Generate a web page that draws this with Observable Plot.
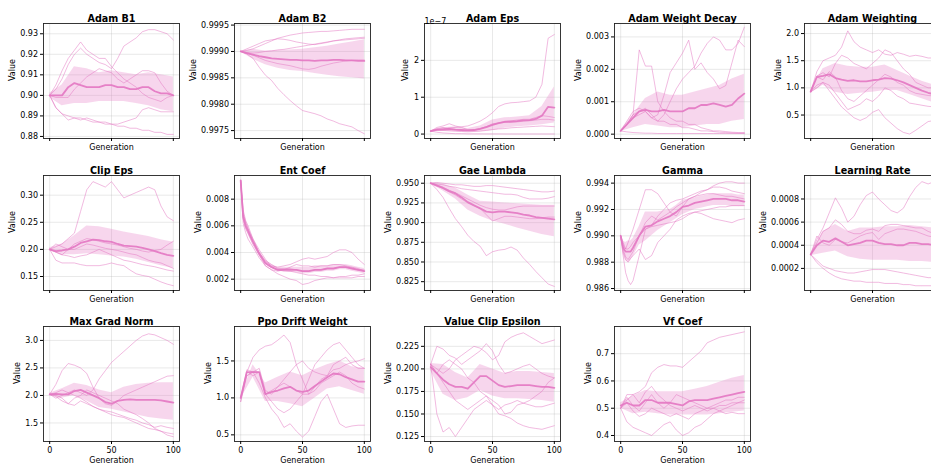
<!DOCTYPE html>
<html><head><meta charset="utf-8">
<script src="https://cdn.jsdelivr.net/npm/d3@7"></script>
<script src="https://cdn.jsdelivr.net/npm/@observablehq/plot@0.6"></script>
<style>
body{margin:0;background:#fff}
#fig{position:relative;width:931px;height:466px;overflow:hidden;background:#fff}
#fig svg{position:absolute;overflow:visible}
</style></head><body><div id="fig"></div>
<script>
// ---------- generations ----------
const gens21 = [0,5,10,15,20,25,30,35,40,45,50,55,60,65,70,75,80,85,90,95,100];
const gens11 = [0,10,20,30,40,50,60,70,80,90,100];
const gensFine = [0,2,4,6,8,10,15,20,25,30,35,40,45,50,55,60,65,70,75,80,85,90,95,100];

// ---------- Adam B1 ----------
const adamB1Runs = [
 [0.900,0.905,0.912,0.918,0.922,0.926,0.922,0.920,0.918,0.918,0.914,0.911,0.908,0.906,0.904,0.901,0.899,0.898,0.897,0.899,0.900],
 [0.900,0.903,0.908,0.915,0.920,0.923,0.920,0.918,0.916,0.915,0.913,0.918,0.924,0.926,0.928,0.931,0.932,0.932,0.931,0.930,0.927],
 [0.900,0.899,0.899,0.899,0.903,0.906,0.909,0.911,0.913,0.912,0.911,0.908,0.906,0.908,0.910,0.912,0.912,0.911,0.906,0.902,0.900],
 [0.900,0.894,0.891,0.888,0.889,0.888,0.889,0.888,0.887,0.887,0.886,0.886,0.887,0.888,0.889,0.893,0.894,0.893,0.892,0.892,0.892],
 [0.900,0.894,0.891,0.890,0.889,0.889,0.888,0.887,0.887,0.886,0.886,0.885,0.885,0.884,0.884,0.883,0.883,0.882,0.882,0.881,0.881]];
const adamB1Mean = [0.900,0.900,0.900,0.904,0.906,0.905,0.904,0.904,0.904,0.905,0.905,0.904,0.904,0.903,0.903,0.904,0.904,0.902,0.901,0.901,0.900];
const adamB1Lo = [0.899,0.895,0.896,0.896,0.897,0.897,0.897,0.896,0.895,0.893,0.892];
const adamB1Hi = [0.901,0.905,0.914,0.913,0.911,0.912,0.911,0.910,0.911,0.910,0.909];
const adamB1Ticks = [0.88,0.89,0.90,0.91,0.92,0.93];
const adamB1TickLabels = ["0.88","0.89","0.90","0.91","0.92","0.93"];

// ---------- Adam B2 ----------
const adamB2Runs = [
 [0.99900,0.99902,0.99905,0.99910,0.99915,0.99920,0.99925,0.99928,0.99931,0.99933,0.99935,0.99936,0.99937,0.99938,0.99938,0.99939,0.99940,0.99941,0.99942,0.99942,0.99942],
 [0.99900,0.99905,0.99910,0.99915,0.99920,0.99922,0.99924,0.99923,0.99921,0.99918,0.99916,0.99914,0.99913,0.99915,0.99917,0.99920,0.99922,0.99924,0.99925,0.99926,0.99927],
 [0.99900,0.99898,0.99897,0.99898,0.99900,0.99901,0.99903,0.99904,0.99906,0.99908,0.99910,0.99912,0.99914,0.99916,0.99918,0.99920,0.99921,0.99922,0.99923,0.99924,0.99925],
 [0.99900,0.99896,0.99893,0.99888,0.99883,0.99880,0.99877,0.99875,0.99873,0.99870,0.99867,0.99866,0.99868,0.99872,0.99875,0.99878,0.99880,0.99882,0.99883,0.99884,0.99884],
 [0.99900,0.99895,0.99887,0.99870,0.99855,0.99845,0.99830,0.99818,0.99807,0.99797,0.99788,0.99785,0.99782,0.99778,0.99772,0.99768,0.99763,0.99760,0.99757,0.99750,0.99744]];
const adamB2Mean = [0.99900,0.99897,0.99894,0.99891,0.99889,0.99887,0.99886,0.99885,0.99884,0.99884,0.99883,0.99883,0.99882,0.99883,0.99883,0.99884,0.99884,0.99883,0.99883,0.99882,0.99882];
const adamB2Lo = [0.99899,0.99885,0.99875,0.99868,0.99864,0.99862,0.99858,0.99855,0.99852,0.99850,0.99848];
const adamB2Hi = [0.99901,0.99904,0.99901,0.99902,0.99903,0.99904,0.99907,0.99910,0.99914,0.99918,0.99922];
const adamB2Ticks = [0.9975,0.9980,0.9985,0.9990,0.9995];
const adamB2TickLabels = ["0.9975","0.9980","0.9985","0.9990","0.9995"];

// ---------- Adam Eps (values in units of 1e-7) ----------
const adamEpsRuns = [
 [0.08,0.12,0.14,0.17,0.18,0.20,0.22,0.28,0.35,0.45,0.58,0.75,0.82,0.85,0.86,0.88,0.90,1.00,1.35,2.60,2.70],
 [0.08,0.15,0.18,0.14,0.12,0.10,0.10,0.12,0.15,0.20,0.25,0.30,0.35,0.36,0.38,0.40,0.40,0.45,0.50,0.48,0.45],
 [0.08,0.18,0.22,0.28,0.22,0.18,0.12,0.10,0.14,0.20,0.28,0.30,0.32,0.32,0.33,0.35,0.36,0.38,0.40,0.40,0.38],
 [0.08,0.10,0.10,0.09,0.08,0.07,0.06,0.07,0.08,0.10,0.12,0.14,0.15,0.17,0.18,0.19,0.20,0.21,0.22,0.21,0.20],
 [0.08,0.05,0.03,0.02,0.01,0.01,0.005,0.005,0.004,0.003,0.003,0.003,0.002,0.002,0.002,0.002,0.002,0.002,0.002,0.002,0.002]];
const adamEpsMean = [0.08,0.12,0.13,0.14,0.12,0.11,0.10,0.11,0.14,0.19,0.25,0.30,0.33,0.34,0.35,0.37,0.38,0.41,0.50,0.74,0.72];
const adamEpsLo = [0.06,0.07,0.06,0.05,0.06,0.10,0.16,0.20,0.22,0.25,0.30];
const adamEpsHi = [0.10,0.17,0.20,0.15,0.22,0.38,0.44,0.46,0.50,0.75,1.28];
const adamEpsTicks = [0,1,2];
const adamEpsTickLabels = ["0","1","2"];

// ---------- Adam Weight Decay ----------
const adamWdRuns = [
 [0.0001,0.0003,0.0006,0.0026,0.0021,0.0021,0.0010,0.0007,0.0005,0.0004,0.0004,0.0003,0.0003,0.0002,0.00015,0.0001,0.0001,0.00008,0.00006,0.00005,0.00005],
 [0.0001,0.0003,0.0005,0.0006,0.0007,0.0005,0.0006,0.0012,0.0019,0.0022,0.0025,0.0029,0.0020,0.0022,0.0019,0.0017,0.0014,0.0015,0.0022,0.0029,0.0027],
 [0.0001,0.0003,0.0006,0.0007,0.0008,0.0006,0.0004,0.0006,0.0010,0.0014,0.0017,0.0019,0.0021,0.0025,0.0028,0.0030,0.0029,0.0026,0.0026,0.0028,0.0033],
 [0.0001,0.0004,0.0007,0.0008,0.0007,0.0005,0.0004,0.0004,0.0003,0.0003,0.0002,0.0002,0.00015,0.0001,0.0001,0.00008,0.00006,0.00005,0.00004,0.00003,0.00003],
 [0.0001,0.00007,0.00005,0.00004,0.00003,0.00003,0.00002,0.00002,0.00002,0.00002,0.00002,0.00002,0.00002,0.00002,0.00002,0.00002,0.00002,0.00002,0.00002,0.00002,0.00002]];
const adamWdMean = [0.0001,0.0003,0.0005,0.0007,0.00075,0.0007,0.0007,0.00075,0.0007,0.0007,0.0007,0.0008,0.0008,0.0009,0.0009,0.00095,0.0009,0.00085,0.0009,0.0011,0.00125];
const adamWdLo = [0.00008,0.0002,0.0003,0.00025,0.0002,0.0002,0.00025,0.0003,0.0003,0.0004,0.00045];
const adamWdHi = [0.00012,0.0006,0.0011,0.0013,0.0012,0.0012,0.0013,0.0014,0.0015,0.0017,0.00185];
const adamWdTicks = [0,0.001,0.002,0.003];
const adamWdTickLabels = ["0.000","0.001","0.002","0.003"];

// ---------- Adam Weighting ----------
const adamWRuns = [
 [0.93,1.30,1.50,1.55,1.60,1.75,2.05,1.85,1.75,1.70,1.65,1.70,1.62,1.60,1.65,1.62,1.58,1.60,1.58,1.55,1.55],
 [0.93,1.22,1.28,1.20,1.45,1.60,1.55,1.45,1.40,1.35,1.45,1.55,1.70,1.65,1.50,1.35,1.25,1.10,1.05,1.00,1.00],
 [0.93,1.20,1.15,1.30,1.20,0.95,0.80,0.75,0.85,0.95,1.05,1.15,1.25,1.20,1.10,1.05,0.95,0.90,0.88,0.86,0.85],
 [0.93,1.05,1.10,1.05,0.90,0.75,0.60,0.65,0.70,0.80,0.75,0.85,1.00,0.95,0.85,0.80,0.72,0.70,0.68,0.66,0.65],
 [0.93,1.00,1.10,0.95,0.80,0.65,0.55,0.45,0.40,0.45,0.55,0.60,0.45,0.35,0.25,0.18,0.15,0.22,0.30,0.38,0.40]];
const adamWMean = [0.93,1.20,1.22,1.25,1.18,1.15,1.13,1.14,1.12,1.12,1.14,1.15,1.18,1.17,1.14,1.10,1.05,1.00,0.95,0.91,0.88];
const adamWLo = [0.90,1.05,0.92,0.88,0.90,0.92,0.95,0.95,0.88,0.80,0.72];
const adamWHi = [0.96,1.35,1.45,1.40,1.38,1.38,1.42,1.32,1.22,1.12,1.05];
const adamWTicks = [0.5,1.0,1.5,2.0];
const adamWTickLabels = ["0.5","1.0","1.5","2.0"];

// ---------- Clip Eps ----------
const clipEpsRuns = [
 [0.200,0.205,0.210,0.220,0.230,0.270,0.310,0.325,0.320,0.315,0.325,0.310,0.295,0.300,0.305,0.310,0.315,0.310,0.280,0.260,0.253],
 [0.200,0.195,0.190,0.200,0.210,0.215,0.220,0.218,0.215,0.212,0.210,0.208,0.205,0.202,0.200,0.197,0.195,0.198,0.200,0.208,0.215],
 [0.200,0.210,0.205,0.200,0.200,0.205,0.210,0.208,0.205,0.202,0.200,0.198,0.195,0.192,0.190,0.185,0.180,0.177,0.175,0.170,0.165],
 [0.200,0.195,0.190,0.188,0.185,0.188,0.190,0.195,0.200,0.195,0.190,0.185,0.180,0.178,0.175,0.172,0.170,0.168,0.165,0.162,0.160],
 [0.200,0.180,0.175,0.175,0.175,0.172,0.170,0.170,0.170,0.172,0.175,0.172,0.170,0.162,0.155,0.152,0.150,0.145,0.140,0.136,0.133]];
const clipEpsMean = [0.200,0.197,0.198,0.200,0.205,0.212,0.215,0.218,0.217,0.215,0.214,0.210,0.207,0.206,0.205,0.203,0.200,0.197,0.193,0.190,0.188];
const clipEpsLo = [0.197,0.190,0.190,0.192,0.190,0.188,0.186,0.182,0.176,0.170,0.165];
const clipEpsHi = [0.203,0.210,0.225,0.243,0.242,0.237,0.232,0.228,0.224,0.218,0.213];
const clipEpsTicks = [0.15,0.20,0.25,0.30];
const clipEpsTickLabels = ["0.15","0.20","0.25","0.30"];

// ---------- Ent Coef (finer early generations) ----------
const entCoefRuns = [
 [0.0094,0.0068,0.0062,0.0058,0.0052,0.0048,0.0040,0.0033,0.0030,0.0029,0.0030,0.0031,0.0033,0.0035,0.0036,0.0035,0.0036,0.0037,0.0040,0.0042,0.0042,0.0040,0.0035,0.0031],
 [0.0094,0.0065,0.0058,0.0054,0.0050,0.0046,0.0038,0.0030,0.0027,0.0026,0.0027,0.0029,0.0031,0.0030,0.0030,0.0029,0.0030,0.0030,0.0031,0.0031,0.0030,0.0029,0.0028,0.0026],
 [0.0094,0.0062,0.0055,0.0050,0.0047,0.0044,0.0036,0.0030,0.0027,0.0024,0.0022,0.0020,0.0019,0.0016,0.0017,0.0019,0.0020,0.0021,0.0021,0.0022,0.0022,0.0023,0.0023,0.0024],
 [0.0094,0.0070,0.0063,0.0058,0.0054,0.0050,0.0042,0.0035,0.0029,0.0027,0.0026,0.0026,0.0025,0.0024,0.0023,0.0023,0.0022,0.0022,0.0021,0.0021,0.0021,0.0021,0.0022,0.0022],
 [0.0094,0.0072,0.0064,0.0060,0.0055,0.0050,0.0040,0.0034,0.0031,0.0028,0.0028,0.0028,0.0027,0.0026,0.0026,0.0027,0.0027,0.0028,0.0028,0.0029,0.0029,0.0028,0.0027,0.0027]];
const entCoefMean = [0.0094,0.0067,0.0060,0.0056,0.0052,0.0048,0.0039,0.0032,0.0029,0.0027,0.0027,0.0027,0.0027,0.0026,0.0026,0.0027,0.0027,0.0028,0.0028,0.0029,0.0029,0.0028,0.0027,0.0026];
const entCoefLo = [0.0093,0.0065,0.0058,0.0054,0.0050,0.0046,0.0038,0.0031,0.0028,0.0026,0.0026,0.0025,0.0025,0.0024,0.0024,0.0025,0.0025,0.0026,0.0026,0.0027,0.0027,0.0026,0.0025,0.0024];
const entCoefHi = [0.0095,0.0069,0.0062,0.0058,0.0054,0.0050,0.0041,0.0034,0.0031,0.0029,0.0029,0.0029,0.0029,0.0029,0.0029,0.0030,0.0030,0.0030,0.0031,0.0031,0.0031,0.0030,0.0029,0.0028];
const entCoefTicks = [0.002,0.004,0.006,0.008];
const entCoefTickLabels = ["0.002","0.004","0.006","0.008"];

// ---------- Gae Lambda ----------
const gaeRuns = [
 [0.950,0.951,0.950,0.949,0.948,0.948,0.947,0.946,0.946,0.947,0.947,0.946,0.945,0.944,0.943,0.942,0.941,0.940,0.939,0.939,0.940],
 [0.950,0.949,0.948,0.946,0.945,0.943,0.942,0.941,0.940,0.939,0.938,0.937,0.936,0.936,0.935,0.932,0.930,0.930,0.930,0.931,0.933],
 [0.950,0.948,0.945,0.941,0.938,0.934,0.930,0.926,0.922,0.919,0.917,0.916,0.916,0.918,0.920,0.921,0.921,0.921,0.921,0.921,0.921],
 [0.950,0.947,0.943,0.939,0.935,0.930,0.925,0.921,0.918,0.910,0.902,0.905,0.908,0.908,0.907,0.906,0.905,0.905,0.906,0.907,0.907],
 [0.950,0.942,0.932,0.918,0.905,0.895,0.884,0.876,0.870,0.858,0.863,0.865,0.866,0.869,0.865,0.855,0.847,0.838,0.830,0.822,0.819]];
const gaeMean = [0.950,0.947,0.944,0.940,0.937,0.932,0.926,0.922,0.918,0.914,0.913,0.914,0.914,0.913,0.912,0.910,0.909,0.907,0.906,0.905,0.904];
const gaeLo = [0.949,0.940,0.930,0.916,0.908,0.902,0.898,0.893,0.889,0.885,0.882];
const gaeHi = [0.951,0.949,0.944,0.935,0.927,0.926,0.925,0.924,0.923,0.922,0.922];
const gaeTicks = [0.825,0.850,0.875,0.900,0.925,0.950];
const gaeTickLabels = ["0.825","0.850","0.875","0.900","0.925","0.950"];

// ---------- Gamma (finer early generations) ----------
const gammaRuns = [
 [0.9900,0.9885,0.9872,0.9866,0.9863,0.9866,0.9885,0.9905,0.9908,0.9915,0.9920,0.9925,0.9927,0.9928,0.9930,0.9932,0.9934,0.9935,0.9938,0.9940,0.9941,0.9941,0.9940,0.9940],
 [0.9900,0.9895,0.9890,0.9895,0.9900,0.9905,0.9920,0.9935,0.9935,0.9932,0.9925,0.9918,0.9915,0.9922,0.9928,0.9930,0.9931,0.9932,0.9932,0.9931,0.9930,0.9930,0.9929,0.9928],
 [0.9900,0.9890,0.9884,0.9882,0.9885,0.9888,0.9900,0.9910,0.9915,0.9912,0.9915,0.9918,0.9922,0.9925,0.9928,0.9930,0.9933,0.9935,0.9937,0.9937,0.9936,0.9934,0.9933,0.9932],
 [0.9900,0.9888,0.9882,0.9880,0.9883,0.9885,0.9890,0.9882,0.9885,0.9895,0.9900,0.9905,0.9912,0.9915,0.9917,0.9918,0.9919,0.9920,0.9921,0.9922,0.9922,0.9923,0.9923,0.9923],
 [0.9900,0.9893,0.9890,0.9890,0.9892,0.9895,0.9900,0.9905,0.9907,0.9908,0.9909,0.9910,0.9911,0.9913,0.9916,0.9918,0.9917,0.9915,0.9913,0.9912,0.9911,0.9910,0.9912,0.9913]];
const gammaMean = [0.9900,0.9891,0.9888,0.9888,0.9888,0.9891,0.9900,0.9907,0.9908,0.9911,0.9913,0.9915,0.9918,0.9922,0.9923,0.9925,0.9926,0.9927,0.9928,0.9928,0.9928,0.9927,0.9927,0.9926];
const gammaLo = [0.9898,0.9886,0.9881,0.9880,0.9881,0.9884,0.9893,0.9896,0.9900,0.9904,0.9907,0.9910,0.9913,0.9916,0.9918,0.9920,0.9921,0.9922,0.9923,0.9923,0.9923,0.9922,0.9922,0.9922];
const gammaHi = [0.9902,0.9896,0.9895,0.9896,0.9896,0.9898,0.9907,0.9918,0.9918,0.9918,0.9919,0.9920,0.9923,0.9927,0.9928,0.9929,0.9930,0.9931,0.9932,0.9932,0.9932,0.9932,0.9931,0.9931];
const gammaTicks = [0.986,0.988,0.990,0.992,0.994];
const gammaTickLabels = ["0.986","0.988","0.990","0.992","0.994"];

// ---------- Learning Rate ----------
const lrRuns = [
 [0.00032,0.00045,0.00055,0.00068,0.00081,0.00072,0.00060,0.00065,0.00075,0.00083,0.00086,0.00080,0.00075,0.00070,0.00068,0.00072,0.00082,0.00090,0.00095,0.00093,0.00095],
 [0.00032,0.00042,0.00052,0.00055,0.00062,0.00058,0.00052,0.00050,0.00050,0.00053,0.00054,0.00052,0.00057,0.00058,0.00058,0.00057,0.00056,0.00055,0.00055,0.00052,0.00050],
 [0.00032,0.00048,0.00042,0.00040,0.00045,0.00043,0.00042,0.00045,0.00048,0.00050,0.00051,0.00045,0.00050,0.00052,0.00054,0.00054,0.00053,0.00052,0.00050,0.00048,0.00047],
 [0.00032,0.00027,0.00022,0.00020,0.00018,0.00017,0.00016,0.00016,0.00017,0.00018,0.00019,0.00019,0.00019,0.00018,0.00017,0.00016,0.00015,0.00014,0.00013,0.00012,0.00012],
 [0.00032,0.00025,0.00020,0.00016,0.00013,0.00011,0.00010,0.00009,0.00009,0.00008,0.00008,0.00008,0.00007,0.00007,0.00007,0.00006,0.00006,0.00005,0.00005,0.00005,0.00005]];
const lrMean = [0.00032,0.00040,0.00044,0.00043,0.00046,0.00043,0.00040,0.00041,0.00042,0.00044,0.00044,0.00042,0.00041,0.00041,0.00040,0.00040,0.00042,0.00042,0.00041,0.00041,0.00040];
const lrLo = [0.00031,0.00033,0.00035,0.00030,0.00028,0.00027,0.00027,0.00027,0.00026,0.00026,0.00025];
const lrHi = [0.00033,0.00052,0.00058,0.00052,0.00055,0.00055,0.00056,0.00056,0.00057,0.00056,0.00055];
const lrTicks = [0.0002,0.0004,0.0006,0.0008];
const lrTickLabels = ["0.0002","0.0004","0.0006","0.0008"];

// ---------- Max Grad Norm ----------
const mgnRuns = [
 [2.02,1.95,2.00,2.05,2.10,2.05,2.00,2.10,2.30,2.45,2.60,2.70,2.80,2.90,3.00,3.08,3.12,3.10,3.05,3.00,2.93],
 [2.02,2.20,2.45,2.58,2.55,2.50,2.40,2.15,1.95,1.85,1.82,1.90,2.00,2.05,2.10,2.15,2.20,2.25,2.30,2.35,2.36],
 [2.02,2.00,1.95,1.85,1.82,1.90,1.85,1.80,1.75,1.72,1.70,1.66,1.62,1.58,1.55,1.50,1.47,1.42,1.45,1.42,1.40],
 [2.02,2.05,2.10,2.05,2.00,1.95,1.88,1.80,1.75,1.70,1.65,1.62,1.60,1.55,1.50,1.45,1.40,1.38,1.35,1.32,1.30],
 [2.02,1.98,1.90,1.85,1.95,2.00,2.10,2.05,2.00,1.95,1.90,1.85,1.75,1.70,1.65,1.58,1.50,1.40,1.35,1.28,1.25]];
const mgnMean = [2.02,2.03,2.02,2.02,2.08,2.10,2.05,2.00,1.95,1.88,1.85,1.90,1.92,1.93,1.92,1.92,1.92,1.92,1.91,1.89,1.87];
const mgnLo = [2.00,1.95,2.00,1.90,1.78,1.75,1.70,1.65,1.60,1.57,1.55];
const mgnHi = [2.04,2.12,2.22,2.18,2.10,2.05,2.15,2.20,2.22,2.23,2.23];
const mgnTicks = [1.5,2.0,2.5,3.0];
const mgnTickLabels = ["1.5","2.0","2.5","3.0"];

// ---------- Ppo Drift Weight ----------
const ppoRuns = [
 [0.95,1.35,1.55,1.65,1.70,1.72,1.78,1.85,1.75,1.45,1.25,1.05,1.15,1.25,1.30,1.38,1.40,1.45,1.48,1.50,1.53],
 [1.00,1.38,1.35,1.20,1.00,0.85,0.75,0.60,0.65,0.55,0.47,0.55,0.75,0.95,1.05,0.85,0.65,0.60,0.62,0.63,0.63],
 [1.00,1.35,1.30,1.35,1.05,0.95,0.85,0.80,0.85,0.95,1.05,1.25,1.45,1.55,1.65,1.72,1.75,1.65,1.55,1.45,1.40],
 [1.00,1.30,1.35,1.40,1.10,1.05,1.15,1.20,1.15,1.10,1.05,1.05,1.10,1.20,1.25,1.30,1.35,1.30,1.20,1.15,1.12],
 [0.95,1.30,1.35,1.35,1.05,1.10,1.15,1.25,1.35,1.45,1.50,1.40,1.35,1.32,1.30,1.45,1.50,1.55,1.45,1.40,1.40]];
const ppoMean = [1.00,1.35,1.35,1.35,1.05,1.08,1.10,1.13,1.15,1.10,1.08,1.10,1.16,1.22,1.28,1.33,1.32,1.28,1.25,1.22,1.22];
const ppoLo = [0.98,1.28,0.95,0.95,0.92,0.88,1.00,1.12,1.15,1.10,1.05];
const ppoHi = [1.02,1.45,1.20,1.28,1.35,1.30,1.38,1.45,1.50,1.42,1.40];
const ppoTicks = [0.5,1.0,1.5];
const ppoTickLabels = ["0.5","1.0","1.5"];

// ---------- Value Clip Epsilon ----------
const vceRuns = [
 [0.205,0.200,0.195,0.200,0.210,0.215,0.220,0.225,0.223,0.218,0.210,0.215,0.230,0.235,0.238,0.240,0.236,0.232,0.228,0.230,0.232],
 [0.205,0.225,0.222,0.215,0.212,0.205,0.210,0.215,0.220,0.228,0.220,0.205,0.195,0.197,0.200,0.203,0.205,0.200,0.195,0.192,0.190],
 [0.205,0.150,0.130,0.135,0.125,0.135,0.145,0.155,0.160,0.165,0.160,0.150,0.148,0.145,0.140,0.137,0.135,0.134,0.133,0.135,0.137],
 [0.205,0.195,0.205,0.210,0.205,0.200,0.190,0.185,0.175,0.170,0.165,0.160,0.150,0.152,0.160,0.162,0.165,0.170,0.175,0.185,0.190],
 [0.205,0.195,0.185,0.175,0.165,0.160,0.155,0.160,0.165,0.170,0.160,0.155,0.160,0.162,0.165,0.162,0.160,0.158,0.158,0.160,0.162]];
const vceMean = [0.202,0.195,0.188,0.183,0.180,0.180,0.178,0.185,0.192,0.192,0.187,0.182,0.180,0.181,0.182,0.182,0.182,0.181,0.180,0.180,0.179];
const vceLo = [0.198,0.172,0.165,0.168,0.176,0.170,0.167,0.167,0.166,0.165,0.163];
const vceHi = [0.206,0.205,0.196,0.190,0.205,0.200,0.195,0.197,0.197,0.196,0.195];
const vceTicks = [0.125,0.150,0.175,0.200,0.225];
const vceTickLabels = ["0.125","0.150","0.175","0.200","0.225"];

// ---------- Vf Coef ----------
const vfRuns = [
 [0.50,0.53,0.55,0.56,0.58,0.63,0.65,0.66,0.655,0.655,0.65,0.67,0.69,0.71,0.74,0.75,0.76,0.765,0.77,0.775,0.78],
 [0.50,0.55,0.55,0.52,0.56,0.58,0.55,0.53,0.51,0.50,0.49,0.50,0.51,0.50,0.49,0.50,0.49,0.48,0.485,0.48,0.48],
 [0.50,0.45,0.43,0.42,0.41,0.40,0.42,0.44,0.45,0.42,0.40,0.41,0.43,0.44,0.46,0.48,0.49,0.50,0.51,0.52,0.53],
 [0.50,0.54,0.51,0.49,0.52,0.55,0.52,0.50,0.52,0.55,0.54,0.53,0.52,0.51,0.50,0.51,0.52,0.53,0.53,0.54,0.54],
 [0.50,0.52,0.49,0.47,0.48,0.50,0.49,0.48,0.47,0.48,0.47,0.46,0.48,0.49,0.50,0.50,0.51,0.51,0.52,0.52,0.52]];
const vfMean = [0.51,0.52,0.51,0.51,0.53,0.53,0.52,0.52,0.52,0.515,0.51,0.525,0.53,0.53,0.53,0.535,0.54,0.545,0.55,0.555,0.56];
const vfLo = [0.50,0.48,0.485,0.48,0.475,0.475,0.475,0.475,0.48,0.485,0.49];
const vfHi = [0.52,0.545,0.565,0.56,0.56,0.56,0.57,0.58,0.595,0.61,0.62];
const vfTicks = [0.4,0.5,0.6,0.7];
const vfTickLabels = ["0.4","0.5","0.6","0.7"];

// ---------- panel table ----------
const xTicks = [0,50,100];
const xTickLabels = ["0","50","100"];
const panels = [
 {title:"Adam B1", gens:gens21, bandGens:gens11, runs:adamB1Runs, mean:adamB1Mean, lo:adamB1Lo, hi:adamB1Hi, yDomain:[0.879,0.935], ticks:adamB1Ticks, labels:adamB1TickLabels},
 {title:"Adam B2", gens:gens21, bandGens:gens11, runs:adamB2Runs, mean:adamB2Mean, lo:adamB2Lo, hi:adamB2Hi, yDomain:[0.99735,0.99953], ticks:adamB2Ticks, labels:adamB2TickLabels},
 {title:"Adam Eps", gens:gens21, bandGens:gens11, runs:adamEpsRuns, mean:adamEpsMean, lo:adamEpsLo, hi:adamEpsHi, yDomain:[-0.12,3.0], ticks:adamEpsTicks, labels:adamEpsTickLabels, offsetText:"1e\u22127"},
 {title:"Adam Weight Decay", gens:gens21, bandGens:gens11, runs:adamWdRuns, mean:adamWdMean, lo:adamWdLo, hi:adamWdHi, yDomain:[-0.000134,0.003414], ticks:adamWdTicks, labels:adamWdTickLabels},
 {title:"Adam Weighting", gens:gens21, bandGens:gens11, runs:adamWRuns, mean:adamWMean, lo:adamWLo, hi:adamWHi, yDomain:[0.068,2.185], ticks:adamWTicks, labels:adamWTickLabels},
 {title:"Clip Eps", gens:gens21, bandGens:gens11, runs:clipEpsRuns, mean:clipEpsMean, lo:clipEpsLo, hi:clipEpsHi, yDomain:[0.1242,0.3363], ticks:clipEpsTicks, labels:clipEpsTickLabels},
 {title:"Ent Coef", gens:gensFine, bandGens:gensFine, runs:entCoefRuns, mean:entCoefMean, lo:entCoefLo, hi:entCoefHi, yDomain:[0.00115,0.009775], ticks:entCoefTicks, labels:entCoefTickLabels},
 {title:"Gae Lambda", gens:gens21, bandGens:gens11, runs:gaeRuns, mean:gaeMean, lo:gaeLo, hi:gaeHi, yDomain:[0.8138,0.9598], ticks:gaeTicks, labels:gaeTickLabels},
 {title:"Gamma", gens:gensFine, bandGens:gensFine, runs:gammaRuns, mean:gammaMean, lo:gammaLo, hi:gammaHi, yDomain:[0.98585,0.99458], ticks:gammaTicks, labels:gammaTickLabels},
 {title:"Learning Rate", gens:gens21, bandGens:gens11, runs:lrRuns, mean:lrMean, lo:lrLo, hi:lrHi, yDomain:[0.000009,0.001003], ticks:lrTicks, labels:lrTickLabels},
 {title:"Max Grad Norm", gens:gens21, bandGens:gens11, runs:mgnRuns, mean:mgnMean, lo:mgnLo, hi:mgnHi, yDomain:[1.163,3.253], ticks:mgnTicks, labels:mgnTickLabels},
 {title:"Ppo Drift Weight", gens:gens21, bandGens:gens11, runs:ppoRuns, mean:ppoMean, lo:ppoLo, hi:ppoHi, yDomain:[0.41,1.966], ticks:ppoTicks, labels:ppoTickLabels},
 {title:"Value Clip Epsilon", gens:gens21, bandGens:gens11, runs:vceRuns, mean:vceMean, lo:vceLo, hi:vceHi, yDomain:[0.1195,0.247], ticks:vceTicks, labels:vceTickLabels},
 {title:"Vf Coef", gens:gens21, bandGens:gens11, runs:vfRuns, mean:vfMean, lo:vfLo, hi:vfHi, yDomain:[0.378,0.7996], ticks:vfTicks, labels:vfTickLabels}
];

const PINK = "#e377c2";
const FONT = 8;
function textWidth(s){ // DejaVu Sans advance widths (em)
  let w = 0; for (const ch of s) w += (ch === ".") ? 0.318 : 0.636; return w * FONT;
}
const fig = document.getElementById("fig");
panels.forEach((p, i) => {
  const col = i % 5, row = Math.floor(i / 5);
  const showXLabels = row === 2;
  const runRows = p.runs.flatMap((r, k) => r.map((v, j) => ({g: p.gens[j], v, run: k})));
  const meanRows = p.mean.map((v, j) => ({g: p.gens[j], v}));
  const bandRows = p.lo.map((v, j) => ({g: p.bandGens[j], lo: v, hi: p.hi[j]}));
  const maxW = Math.max(...p.labels.map(textWidth));
  const yLabelOffset = maxW + 13.5;
  const marks = [
    Plot.gridX(xTicks, {stroke: "#b0b0b0", strokeOpacity: 0.35, strokeWidth: 0.8}),
    Plot.gridY(p.ticks, {stroke: "#b0b0b0", strokeOpacity: 0.35, strokeWidth: 0.8}),
    Plot.areaY(bandRows, {x: "g", y1: "lo", y2: "hi", fill: PINK, fillOpacity: 0.3}),
    Plot.lineY(runRows, {x: "g", y: "v", z: "run", stroke: PINK, strokeOpacity: 0.6, strokeWidth: 0.85}),
    Plot.lineY(meanRows, {x: "g", y: "v", stroke: PINK, strokeOpacity: 0.9, strokeWidth: 1.8}),
    Plot.frame({stroke: "#222", strokeWidth: 0.9}),
    Plot.axisX({ticks: xTicks, tickSize: 3, tickPadding: 2.5, label: null,
      tickFormat: showXLabels ? (d => xTickLabels[xTicks.indexOf(d)]) : (() => "")}),
    Plot.axisY({ticks: p.ticks, tickSize: 3, tickPadding: 2.5, label: null,
      tickFormat: d => p.labels[p.ticks.indexOf(d)]}),
    Plot.text([p.title], {frameAnchor: "top", dy: -8.5, fontWeight: "bold", fontSize: 9.6}),
    Plot.text(["Generation"], {frameAnchor: "bottom", dy: showXLabels ? 21.5 : 11}),
    Plot.text(["Value"], {frameAnchor: "left", rotate: -90, dx: -yLabelOffset})
  ];
  if (p.offsetText) marks.push(Plot.text([p.offsetText], {frameAnchor: "top-left", textAnchor: "start", dy: -5.5}));
  const svg = Plot.plot({
    width: 190, height: 152,
    marginLeft: 43, marginRight: 11, marginTop: 23, marginBottom: 14,
    x: {domain: [-5, 105]},
    y: {domain: p.yDomain},
    clip: false,
    style: {fontFamily: "'DejaVu Sans', sans-serif", fontSize: FONT + "px", background: "transparent", overflow: "visible", color: "#000"},
    marks
  });
  svg.style.left = (0.3 + 190.25 * col) + "px";
  svg.style.top = [0.3, 152, 303][row] + "px";
  fig.appendChild(svg);
});
</script>
</body></html>
